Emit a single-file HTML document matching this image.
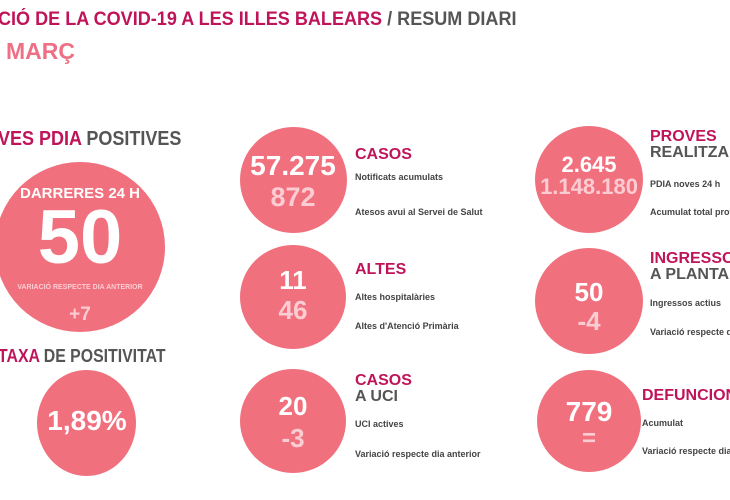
<!DOCTYPE html>
<html><head><meta charset="utf-8"><style>
body{margin:0;width:730px;height:500px;background:#fff;overflow:hidden;position:relative;font-family:"Liberation Sans",sans-serif;}
.a{position:absolute;white-space:nowrap;}
.n{transform:scaleX(0.88);transform-origin:0 0;}
.c{position:absolute;background:#f0707e;border-radius:50%;}
.m{color:#c0145a;font-weight:bold;}
.g{color:#555;font-weight:bold;}
.w{color:#fff;font-weight:bold;text-align:center;}
.l{color:#fbcdd2;font-weight:bold;text-align:center;}
.s{color:#444;font-weight:bold;font-size:9px;}
</style></head><body>
<div class="a m n" style="left:-2px;top:9px;font-size:19px;transform:scaleX(0.95);">CIÓ DE LA COVID-19 A LES ILLES BALEARS <span style="color:#555">/ RESUM DIARI</span></div>
<div class="a" style="left:6px;top:38px;font-size:23px;font-weight:bold;color:#ef6f84;">MARÇ</div>

<div class="a n" style="left:-2px;top:128px;font-size:20px;font-weight:bold;transform:scaleX(0.9);"><span class="m">VES PDIA</span> <span class="g">POSITIVES</span></div>
<div class="c" style="left:-5px;top:162px;width:170px;height:170px;"></div>
<div class="a w" style="left:-5px;width:170px;top:185px;font-size:15px;">DARRERES 24 H</div>
<div class="a w" style="left:-5px;width:170px;top:200px;font-size:76px;line-height:76px;">50</div>
<div class="a" style="left:-5px;width:170px;top:284px;font-size:7px;color:#fbcdd2;font-weight:bold;text-align:center;">VARIACIÓ RESPECTE DIA ANTERIOR</div>
<div class="a l" style="left:-5px;width:170px;top:304px;font-size:19px;">+7</div>

<div class="a n" style="left:-2px;top:346px;font-size:18px;font-weight:bold;"><span class="m">TAXA</span> <span class="g">DE POSITIVITAT</span></div>
<div class="c" style="left:37px;top:370px;width:99px;height:106px;"></div>
<div class="a w" style="left:17px;width:140px;top:405px;font-size:28px;">1,89%</div>

<div class="c" style="left:240px;top:127px;width:107px;height:106px;"></div>
<div class="a w" style="left:233px;width:120px;top:150px;font-size:28px;">57.275</div>
<div class="a l" style="left:233px;width:120px;top:182px;font-size:27px;">872</div>
<div class="a m" style="left:355px;top:146px;font-size:16px;">CASOS</div>
<div class="a s" style="left:355px;top:172px;">Notificats acumulats</div>
<div class="a s" style="left:355px;top:207px;">Atesos avui al Servei de Salut</div>

<div class="c" style="left:240px;top:245px;width:106px;height:104px;"></div>
<div class="a w" style="left:233px;width:120px;top:265px;font-size:26px;">11</div>
<div class="a l" style="left:233px;width:120px;top:295px;font-size:26px;">46</div>
<div class="a m" style="left:355px;top:261px;font-size:16px;">ALTES</div>
<div class="a s" style="left:355px;top:292px;">Altes hospitalàries</div>
<div class="a s" style="left:355px;top:321px;">Altes d'Atenció Primària</div>

<div class="c" style="left:240px;top:369px;width:106px;height:104px;"></div>
<div class="a w" style="left:233px;width:120px;top:391px;font-size:26px;">20</div>
<div class="a l" style="left:233px;width:120px;top:423px;font-size:26px;">-3</div>
<div class="a m" style="left:355px;top:372px;font-size:16px;">CASOS</div>
<div class="a g" style="left:355px;top:388px;font-size:16px;">A UCI</div>
<div class="a s" style="left:355px;top:419px;">UCI actives</div>
<div class="a s" style="left:355px;top:449px;">Variació respecte dia anterior</div>

<div class="c" style="left:535px;top:126px;width:108px;height:107px;"></div>
<div class="a w" style="left:529px;width:120px;top:152px;font-size:22px;">2.645</div>
<div class="a l" style="left:524px;width:130px;top:174px;font-size:22px;">1.148.180</div>
<div class="a m" style="left:650px;top:128px;font-size:16px;">PROVES</div>
<div class="a g" style="left:650px;top:144px;font-size:16px;">REALITZADES</div>
<div class="a s" style="left:650px;top:179px;">PDIA noves 24 h</div>
<div class="a s" style="left:650px;top:207px;">Acumulat total proves</div>

<div class="c" style="left:535px;top:248px;width:108px;height:106px;"></div>
<div class="a w" style="left:529px;width:120px;top:277px;font-size:26px;">50</div>
<div class="a l" style="left:529px;width:120px;top:306px;font-size:26px;">-4</div>
<div class="a m" style="left:650px;top:250px;font-size:16px;">INGRESSOS</div>
<div class="a g" style="left:650px;top:266px;font-size:16px;">A PLANTA</div>
<div class="a s" style="left:650px;top:298px;">Ingressos actius</div>
<div class="a s" style="left:650px;top:327px;">Variació respecte dia anterior</div>

<div class="c" style="left:537px;top:370px;width:104px;height:102px;"></div>
<div class="a w" style="left:529px;width:120px;top:396px;font-size:28px;">779</div>
<div class="a l" style="left:529px;width:120px;top:425px;font-size:24px;">=</div>
<div class="a m" style="left:642px;top:387px;font-size:16px;">DEFUNCIONS</div>
<div class="a s" style="left:642px;top:418px;">Acumulat</div>
<div class="a s" style="left:642px;top:446px;">Variació respecte dia anterior</div>
</body></html>
